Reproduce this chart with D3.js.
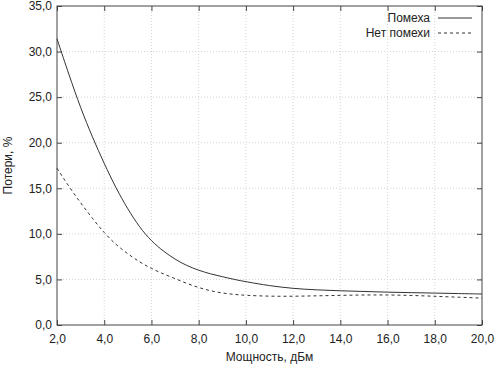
<!DOCTYPE html>
<html>
<head>
<meta charset="utf-8">
<script src="https://cdn.jsdelivr.net/npm/d3@7"></script>
<style>
  body { margin: 0; background: #fff; }
  svg { display: block; font-family: "Liberation Sans", Arial, sans-serif; }
  .tick text { font-size: 12px; fill: #222; }
</style>
</head>
<body>
<svg></svg>
<script>
// Мощность, дБм
const power = [2, 2.5, 3, 3.5, 4, 4.5, 5, 5.5, 6, 6.5, 7, 7.5, 8, 8.5, 9, 9.5, 10, 11, 12, 13, 14, 15, 16, 17, 18, 19, 20];
// Потери с помехой, %
const withNoise = [31.4, 27.5, 23.8, 20.6, 17.7, 15.0, 12.7, 10.7, 9.2, 8.1, 7.2, 6.5, 6.0, 5.6, 5.3, 5.0, 4.75, 4.3, 4.0, 3.85, 3.75, 3.68, 3.6, 3.55, 3.5, 3.45, 3.4];
// Потери без помехи, %
const noNoise = [17.2, 15.2, 13.4, 11.7, 10.1, 8.8, 7.8, 6.9, 6.2, 5.6, 5.1, 4.55, 4.1, 3.75, 3.5, 3.35, 3.25, 3.15, 3.15, 3.2, 3.25, 3.3, 3.3, 3.25, 3.15, 3.05, 2.95];

const xTicks = [2, 4, 6, 8, 10, 12, 14, 16, 18, 20];
const yTicks = [0, 5, 10, 15, 20, 25, 30, 35];
const seriesNames = ["Помеха", "Нет помехи"];

const width = 502, height = 370;
const margin = { top: 6, right: 20, bottom: 45, left: 57 };

const svg = d3.select("svg").attr("width", width).attr("height", height);

const x = d3.scaleLinear().domain([2, 20]).range([margin.left, width - margin.right]);
const y = d3.scaleLinear().domain([0, 35]).range([height - margin.bottom, margin.top]);

const fmt = d => d.toFixed(1).replace(".", ",");

// сетка
svg.append("g").selectAll("line")
  .data(xTicks.slice(1, -1)).enter().append("line")
  .attr("x1", d => x(d)).attr("x2", d => x(d))
  .attr("y1", y(0)).attr("y2", y(35))
  .attr("stroke", "#d4d4d4").attr("stroke-dasharray", "1,2");
svg.append("g").selectAll("line")
  .data(yTicks.slice(1, -1)).enter().append("line")
  .attr("x1", x(2)).attr("x2", x(20))
  .attr("y1", d => y(d)).attr("y2", d => y(d))
  .attr("stroke", "#d4d4d4").attr("stroke-dasharray", "1,2");

// оси
const xAxis = d3.axisBottom(x).tickValues(xTicks).tickFormat(fmt).tickSizeInner(-5).tickSizeOuter(0).tickPadding(9);
const yAxis = d3.axisLeft(y).tickValues(yTicks).tickFormat(fmt).tickSizeInner(-5).tickSizeOuter(0).tickPadding(5);

svg.append("g").attr("transform", `translate(0,${y(0)})`).call(xAxis)
  .call(g => g.select(".domain").remove());
svg.append("g").attr("transform", `translate(${x(2)},0)`).call(yAxis)
  .call(g => g.select(".domain").remove());

// зеркальные засечки
svg.append("g").attr("transform", `translate(0,${y(35)})`)
  .call(d3.axisTop(x).tickValues(xTicks).tickSizeInner(-5).tickSizeOuter(0).tickFormat(""))
  .call(g => g.select(".domain").remove());
svg.append("g").attr("transform", `translate(${x(20)},0)`)
  .call(d3.axisRight(y).tickValues(yTicks).tickSizeInner(-5).tickSizeOuter(0).tickFormat(""))
  .call(g => g.select(".domain").remove());

svg.selectAll(".tick line").attr("stroke", "#444");

svg.append("rect")
  .attr("x", x(2)).attr("y", y(35))
  .attr("width", x(20) - x(2)).attr("height", y(0) - y(35))
  .attr("fill", "none").attr("stroke", "#444");

// подписи осей
svg.append("text")
  .attr("x", (x(2) + x(20)) / 2).attr("y", 361)
  .attr("text-anchor", "middle").attr("font-size", 12).attr("fill", "#222")
  .text("Мощность, дБм");
svg.append("text")
  .attr("transform", `translate(12,${(y(0) + y(35)) / 2}) rotate(-90)`)
  .attr("text-anchor", "middle").attr("font-size", 12).attr("fill", "#222")
  .text("Потери, %");

// кривые
const line = d3.line().x(d => x(d[0])).y(d => y(d[1])).curve(d3.curveBasis);
const series = [
  { name: seriesNames[0], values: withNoise, dash: null },
  { name: seriesNames[1], values: noNoise, dash: "3,3" }
];

series.forEach(s => {
  svg.append("path")
    .datum(power.map((p, i) => [p, s.values[i]]))
    .attr("d", line)
    .attr("fill", "none")
    .attr("stroke", "#333")
    .attr("stroke-width", 1)
    .attr("stroke-dasharray", s.dash);
});

// легенда
const legend = svg.append("g");
series.forEach((s, i) => {
  const ly = 18 + i * 15;
  legend.append("text")
    .attr("x", 430).attr("y", ly + 4)
    .attr("text-anchor", "end").attr("font-size", 12).attr("fill", "#222")
    .text(s.name);
  legend.append("line")
    .attr("x1", 438).attr("x2", 472)
    .attr("y1", ly).attr("y2", ly)
    .attr("stroke", "#333")
    .attr("stroke-dasharray", s.dash);
});
</script>
</body>
</html>
